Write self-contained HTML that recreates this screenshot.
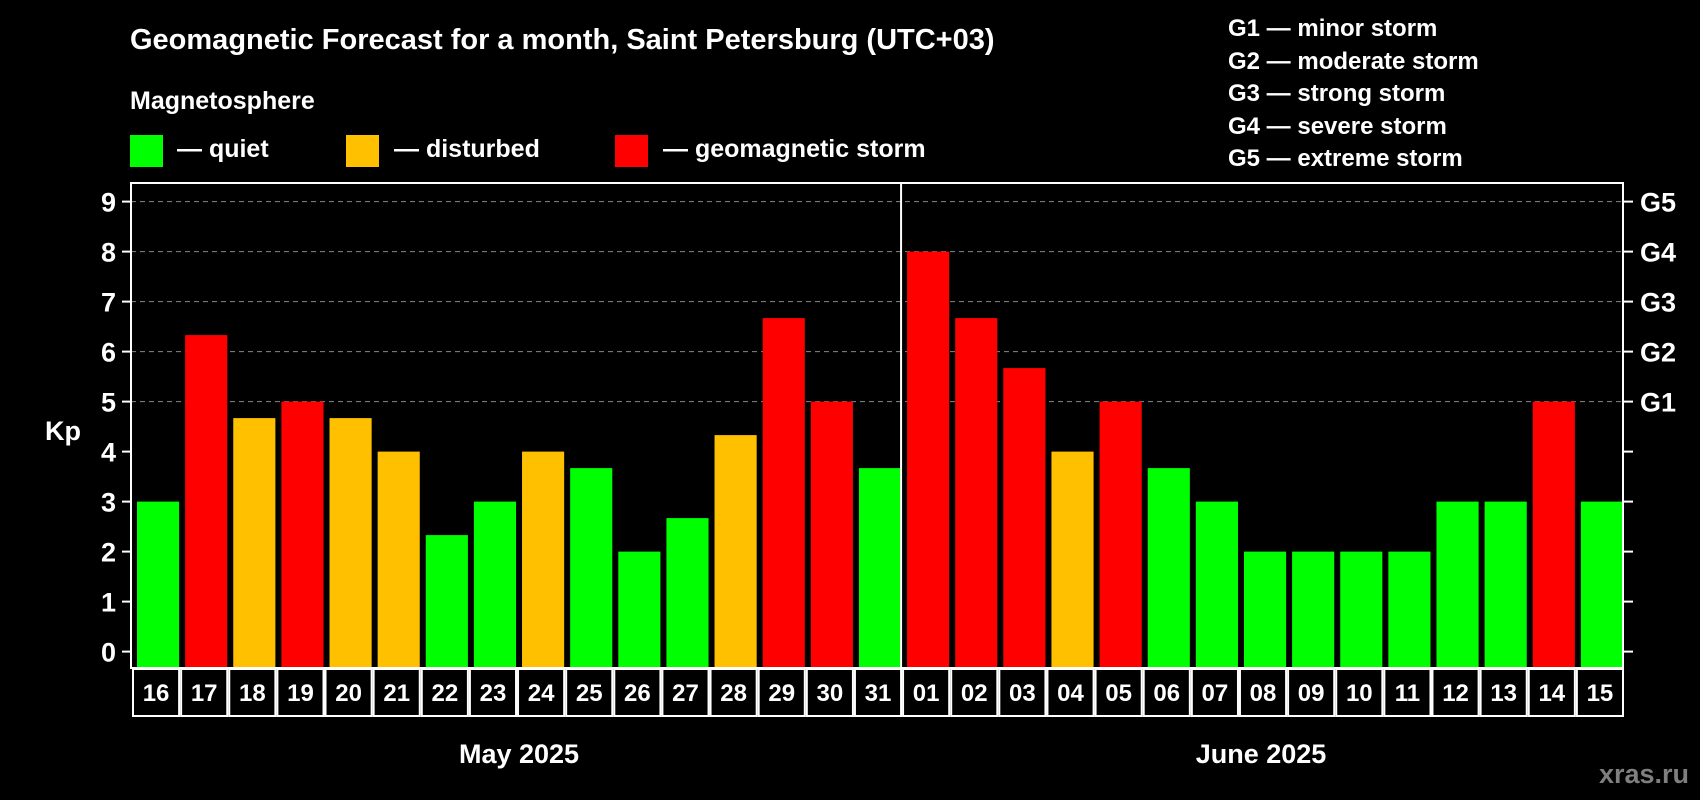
<!DOCTYPE html>
<html><head><meta charset="utf-8"><style>
html,body{margin:0;padding:0;background:#000;}
svg{display:block;font-family:"Liberation Sans",Arial,sans-serif;font-weight:bold;}
</style></head><body>
<svg id="chart" width="1700" height="800" viewBox="0 0 1700 800">
<rect x="0" y="0" width="1700" height="800" fill="#000"/>
<text x="130" y="49" font-size="29" fill="#fff">Geomagnetic Forecast for a month, Saint Petersburg (UTC+03)</text>
<text x="130" y="109" font-size="25" fill="#fff">Magnetosphere</text>
<g><rect x="130" y="135" width="33" height="32" fill="#00ff00"/><text x="177" y="157" font-size="25" fill="#fff">— quiet</text></g>
<g><rect x="346" y="135" width="33" height="32" fill="#ffc000"/><text x="394" y="157" font-size="25" fill="#fff">— disturbed</text></g>
<g><rect x="615" y="135" width="33" height="32" fill="#ff0000"/><text x="663" y="157" font-size="25" fill="#fff">— geomagnetic storm</text></g>
<g font-size="24" fill="#fff">
<text x="1228" y="36">G1 — minor storm</text>
<text x="1228" y="69">G2 — moderate storm</text>
<text x="1228" y="101">G3 — strong storm</text>
<text x="1228" y="134">G4 — severe storm</text>
<text x="1228" y="166">G5 — extreme storm</text>
</g>
<text x="63" y="440" font-size="27" fill="#fff" text-anchor="middle">Kp</text>
<g id="plot"></g>
<text x="519" y="763" font-size="27" fill="#fff" text-anchor="middle">May 2025</text>
<text x="1261" y="763" font-size="27" fill="#fff" text-anchor="middle">June 2025</text>
<text x="1689" y="783" font-size="27" fill="#7f7f7f" text-anchor="end">xras.ru</text>
</svg>
<script>
const days = ["16","17","18","19","20","21","22","23","24","25","26","27","28","29","30","31","01","02","03","04","05","06","07","08","09","10","11","12","13","14","15"];
const kpValues = [3,6.33,4.67,5,4.67,4,2.33,3,4,3.67,2,2.67,4.33,6.67,5,3.67,8,6.67,5.67,4,5,3.67,3,2,2,2,2,3,3,5,3];
const yTicks = [0,1,2,3,4,5,6,7,8,9];
const gLabels = ["G1","G2","G3","G4","G5"];
const gLevels = [5,6,7,8,9];

const NS="http://www.w3.org/2000/svg";
const L=131,R=1623,T=183,B=668;
const slot=(R-L)/days.length;
function y(v){return 651.6-v*50;}
function xs(i){return L+i*slot;}
function mk(tag,attrs,parent){const e=document.createElementNS(NS,tag);for(const k in attrs)e.setAttribute(k,attrs[k]);parent.appendChild(e);return e;}
const g=document.getElementById('plot');
function color(v){return v>=5?"#ff0000":(v>=4?"#ffc000":"#00ff00");}
// gridlines
gLevels.forEach(v=>{
  const l=mk('line',{x1:L,x2:R,y1:y(v),y2:y(v),stroke:"#888","stroke-width":1,"stroke-dasharray":"5,4"},g);
  
  
});
// bars
kpValues.forEach((v,i)=>{
  const r=mk('rect',{x:xs(i)+6,y:y(v),width:slot-6,height:B-y(v),fill:color(v)},g);
  
  
});
// frame
const fr=mk('rect',{x:L,y:T,width:R-L,height:B-T,fill:"none",stroke:"#fff","stroke-width":2},g);


const dv=mk('line',{x1:xs(16),x2:xs(16),y1:T,y2:B,stroke:"#fff","stroke-width":2},g);


// y ticks
yTicks.forEach(v=>{
  mk('line',{x1:L-9,x2:L,y1:y(v),y2:y(v),stroke:"#fff","stroke-width":2},g);
  mk('line',{x1:R,x2:R+10,y1:y(v),y2:y(v),stroke:"#fff","stroke-width":2},g);
  const t=mk('text',{x:L-15,y:y(v)+10,"font-size":27,fill:"#fff","text-anchor":"end"},g);
  t.textContent=v;
  
  
});
gLabels.forEach((s,i)=>{
  const t=mk('text',{x:R+17,y:y(gLevels[i])+10,"font-size":27,fill:"#fff"},g);
  t.textContent=s;
  
  
});
// date cells
days.forEach((d,i)=>{
  const c=mk('rect',{x:xs(i)+2,y:B+1,width:slot-2,height:47,fill:"#000",stroke:"#fff","stroke-width":2},g);
  
  
  const t=mk('text',{x:xs(i)+slot/2+1,y:B+33,"font-size":24,fill:"#fff","text-anchor":"middle"},g);
  t.textContent=d;
  
  
});
</script>
</body></html>
